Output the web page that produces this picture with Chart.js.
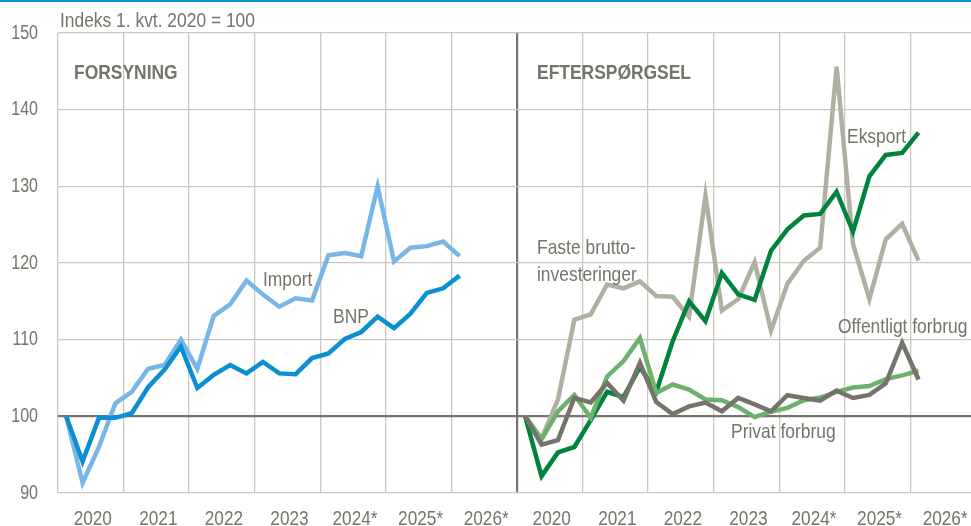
<!DOCTYPE html>
<html>
<head>
<meta charset="utf-8">
<script src="https://cdn.jsdelivr.net/npm/chart.js@4"></script>
<style>
  html, body { margin: 0; padding: 0; background: #fff; overflow: hidden; }
  #wrap { width: 971px; height: 526px; position: relative; }
</style>
</head>
<body>
<div id="wrap"><canvas id="chart"></canvas></div>
<script>
// kvartaler 1. kvt. 2020 - 1. kvt. 2026, indeks 1. kvt. 2020 = 100
const years = ['2020', '2021', '2022', '2023', '2024*', '2025*', '2026*'];

// Forsyning
const bnp = [100, 94.1, 99.8, 99.8, 100.4, 103.8, 106.1, 109.1, 103.7, 105.4, 106.7, 105.6, 107.1,
  105.6, 105.5, 107.6, 108.2, 110.1, 111.0, 113.0, 111.5, 113.4, 116.1, 116.7, 118.35];
const importData = [100, 91.3, 96.0, 101.7, 103.2, 106.2, 106.7, 110.0, 106.2, 113.1, 114.6, 117.7, 115.9,
  114.3, 115.4, 115.1, 121.0, 121.3, 120.9, 130.0, 120.2, 122.0, 122.2, 122.8, 120.9];

// Efterspørgsel
const faste = [100, 97.1, 102.2, 112.6, 113.3, 117.2, 116.7, 117.6, 115.7, 115.6, 113.0, 128.8, 113.8,
  115.3, 120.1, 111.2, 117.3, 120.3, 122.0, 145.6, 122.5, 115.3, 123.1, 125.1, 120.3];
const eksport = [100, 92.2, 95.3, 96.0, 99.5, 103.2, 102.5, 106.4, 103.2, 109.8, 115.0, 112.4, 118.7,
  115.9, 115.2, 121.6, 124.4, 126.2, 126.4, 129.3, 124.1, 131.3, 134.1, 134.35, 137.0];
const privat = [100, 97.0, 100.65, 102.8, 99.8, 105.2, 107.2, 110.2, 103.05, 104.15, 103.5, 102.2, 102.1,
  101.2, 99.9, 100.6, 101.1, 102.1, 102.45, 103.2, 103.75, 103.95, 104.85, 105.35, 105.95];
const offentlig = [100, 96.3, 96.9, 102.4, 101.8, 104.35, 102.05, 107.0, 101.85, 100.3, 101.3, 101.8, 100.65,
  102.4, 101.55, 100.65, 102.75, 102.4, 102.05, 103.35, 102.4, 102.8, 104.3, 109.6, 104.8];

const textCol = '#74746a';
const gridCol = '#cac9bf';
const darkCol = '#77766a';
const FONT = "'Liberation Sans', Arial, sans-serif";
const NARROW = 0.83; // ingen smal skrift installeret, så teksten presses vandret

// venstre panel starter ved 0, højre panel ved 28 (7 år x 4 kvartaler)
function pts(arr, start) {
  return arr.map((v, i) => ({ x: start + i + 0.5, y: v }));
}

function line(label, arr, start, color, order) {
  return {
    label: label,
    data: pts(arr, start),
    borderColor: color,
    borderWidth: 4.5,
    pointRadius: 0,
    tension: 0,
    fill: false,
    order: order
  };
}

function yearLabel(v) {
  return v % 4 === 2 ? years[((v - 2) / 4) % 7] : '';
}

function txt(c, s, x, y, font, align, sx) {
  c.save();
  c.font = font;
  c.textAlign = align || 'left';
  c.textBaseline = 'middle';
  c.translate(x, y);
  c.scale(sx || NARROW, 1);
  c.fillText(s, 0, 0);
  c.restore();
}

const labelsPlugin = {
  id: 'labels',
  afterDraw(chart) {
    const c = chart.ctx;
    const xs = chart.scales.x, ys = chart.scales.y;
    c.save();
    c.fillStyle = '#0a8fd2';
    c.fillRect(0, 0, chart.width, 2);
    c.fillStyle = textCol;

    // akser
    ys.ticks.forEach(t => {
      txt(c, String(t.value), 38, ys.getPixelForValue(t.value), '20px ' + FONT, 'right', 0.8);
    });
    xs.ticks.forEach(t => {
      const s = yearLabel(t.value);
      if (s) txt(c, s, xs.getPixelForValue(t.value) + 2, 519, '21px ' + FONT, 'center', 0.82);
    });

    txt(c, 'Indeks 1. kvt. 2020 = 100', 60, 21, '20px ' + FONT, 'left', 0.87);
    txt(c, 'FORSYNING', 74, 73, 'bold 21px ' + FONT);
    txt(c, 'EFTERSPØRGSEL', 537, 73, 'bold 21px ' + FONT);
    const f = '21px ' + FONT;
    txt(c, 'Import', 263, 280, f);
    txt(c, 'BNP', 333, 317, f);
    txt(c, 'Faste brutto-', 537, 248, f);
    txt(c, 'investeringer', 537, 275, f);
    txt(c, 'Eksport', 847, 137, f);
    txt(c, 'Offentligt forbrug', 838, 327, f);
    txt(c, 'Privat forbrug', 731, 432, f);
    c.restore();
  }
};

new Chart(document.getElementById('chart'), {
  type: 'line',
  data: {
    datasets: [
      line('BNP', bnp, 0, '#0a8fd2', 1),
      line('Import', importData, 0, '#78b7e5', 2),
      line('Offentligt forbrug', offentlig, 28, '#75746a', 1),
      line('Privat forbrug', privat, 28, '#6cb26c', 2),
      line('Eksport', eksport, 28, '#00843d', 3),
      line('Faste bruttoinvesteringer', faste, 28, '#b1afa2', 4)
    ]
  },
  options: {
    responsive: true,
    maintainAspectRatio: false,
    animation: false,
    layout: { padding: { top: 33, right: 0, bottom: 0, left: 0 } },
    plugins: {
      legend: { display: false },
      tooltip: { enabled: false }
    },
    scales: {
      x: {
        type: 'linear',
        min: 0,
        max: 55.7,
        afterBuildTicks(scale) {
          const t = [];
          for (let v = 0; v <= 54; v += 2) t.push({ value: v });
          scale.ticks = t;
        },
        afterFit(scale) { scale.height = 33; },
        border: { display: false },
        grid: {
          drawTicks: false,
          color: ctx => {
            const v = ctx.tick ? ctx.tick.value : 0;
            if (v % 4 !== 0) return 'rgba(0,0,0,0)';
            return v === 28 ? darkCol : gridCol;
          },
          lineWidth: ctx => (ctx.tick && ctx.tick.value === 28 ? 2.2 : 1.3)
        },
        ticks: { display: false, callback: yearLabel }
      },
      y: {
        min: 90,
        max: 150,
        afterFit(scale) { scale.width = 58; },
        border: { display: false },
        grid: {
          drawTicks: false,
          color: ctx => (ctx.tick && ctx.tick.value === 100 ? darkCol : gridCol),
          lineWidth: ctx => (ctx.tick && ctx.tick.value === 100 ? 2.2 : 1.3)
        },
        ticks: { display: false, stepSize: 10 }
      }
    }
  },
  plugins: [labelsPlugin]
});
</script>
</body>
</html>
